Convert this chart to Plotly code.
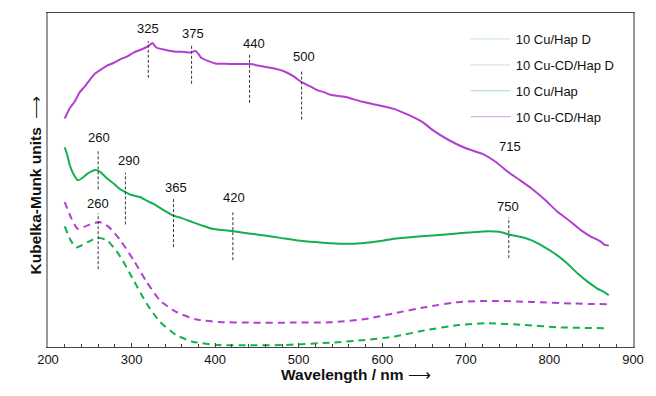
import plotly.graph_objects as go

# ---- data (arbitrary Kubelka-Munk units) ----
cu_cd_hap_x = [220, 226, 232, 238, 244, 250, 256, 263, 271, 279, 287, 295, 303, 311, 320, 325, 330, 340, 350, 360,
               370, 377, 383, 392, 400, 412, 424, 442, 459, 472, 483, 494, 504, 514, 522, 530, 538, 555, 575, 595,
               614, 632, 649, 660, 680, 700, 720, 736, 751, 765, 779, 795, 810, 824, 838, 850, 860, 866, 871]
cu_cd_hap_y = [68.4, 71.5, 73.5, 76.3, 78.0, 80.0, 81.8, 83.0, 84.3, 85.1, 86.2, 87.0, 88.2, 89.0, 90.1, 91.0, 89.6,
               89.0, 88.5, 88.4, 88.2, 88.6, 86.7, 85.6, 84.9, 84.8, 84.7, 84.7, 83.9, 83.3, 82.5, 81.0, 79.2, 78.0,
               76.9, 76.3, 75.5, 74.9, 73.5, 72.4, 71.3, 69.4, 67.2, 65.0, 61.9, 59.5, 57.8, 55.4, 52.3, 49.9, 47.4,
               44.0, 40.4, 37.8, 34.9, 33.0, 31.8, 30.6, 30.4]

cu_hap_x = [220, 223, 226, 230, 235.6, 241, 247.4, 252, 257.3, 263.2, 270, 278.8, 285, 292.6, 300, 310.2, 318, 325.9,
            335, 349.4, 360, 372.9, 385, 396.5, 408, 420, 440, 459.2, 480, 498.5, 520, 537.6, 555, 575, 600, 614,
            640, 661, 690, 720, 740, 751.4, 765, 778.8, 792, 806.2, 820, 833.8, 846, 857.3, 865, 871]
cu_hap_y = [59.8, 57.5, 54.5, 52.0, 49.9, 50.6, 51.9, 52.6, 53.0, 52.3, 50.6, 48.9, 47.5, 46.4, 45.5, 44.9, 43.8, 42.9,
            41.5, 39.4, 38.6, 37.4, 36.3, 35.4, 35.0, 34.7, 34.0, 33.4, 32.6, 31.9, 31.4, 31.1, 30.9, 31.1, 31.8, 32.4,
            33.0, 33.4, 34.0, 34.6, 34.5, 33.7, 33.0, 31.9, 30.2, 28.0, 25.3, 22.0, 19.5, 17.5, 16.5, 15.5]

cu_cd_hap_d_x = [220, 228, 235.6, 247.4, 261.2, 272.9, 286.7, 302.4, 318, 333.8, 353.3, 376.8, 404.4, 443.5, 490,
                 537.6, 580, 614.1, 653.3, 692.6, 731.8, 778.8, 829.8, 871]
cu_cd_hap_d_y = [43.4, 38.5, 35.4, 36.4, 37.4, 35.9, 31.9, 26.0, 19.5, 14.0, 10.5, 8.3, 7.5, 7.3, 7.3,
                 7.4, 8.4, 10.1, 12.0, 13.5, 13.8, 13.5, 13.0, 12.8]

cu_hap_d_x = [220, 227, 233.8, 247.4, 259.2, 270.9, 286.7, 302.4, 318, 333.8, 353.3, 372.9, 404.4, 440, 482.7,
              537.6, 575, 614.1, 653.3, 692.6, 723.9, 771, 810.2, 871]
cu_hap_d_y = [36.1, 32.0, 29.8, 31.4, 32.7, 31.9, 27.0, 20.0, 13.0, 7.6, 3.6, 1.6, 0.6, 0.5, 0.6,
              1.3, 2.0, 3.1, 5.1, 6.6, 7.1, 6.6, 5.9, 5.6]

# band markers: line position, line top/bottom, label text and label position
mark_x = [320, 371.8, 441.2, 503.5, 260, 292.6, 350.2, 421.2, 751.4, 260]
mark_top = [91.6, 90.7, 87.8, 82.7, 59.1, 52.2, 44.5, 40.3, 38.8, 40.0]
mark_bottom = [80.6, 78.8, 73.1, 68.1, 47.2, 36.7, 29.9, 26.0, 26.6, 23.3]
label_text = ["325", "375", "440", "500", "715", "260", "290", "365", "420", "750", "260"]
label_x = [320, 374, 445.9, 506, 753, 261.2, 296.5, 352.9, 422.4, 750.6, 260]
label_y = [95.5, 94.0, 90.9, 86.9, 60.0, 62.7, 55.8, 47.8, 44.8, 42.1, 43.0]

x_ticks = [200, 300, 400, 500, 600, 700, 800, 900]

GREEN = "#12b04e"
PURPLE = "#b23fd0"
FONT = "Arial, Liberation Sans, sans-serif"

fig = go.Figure()

# data curves
fig.add_trace(go.Scatter(x=cu_hap_d_x, y=cu_hap_d_y, mode="lines", showlegend=False,
                         line=dict(color=GREEN, width=2, dash="7px,5px", shape="spline", smoothing=0.6)))
fig.add_trace(go.Scatter(x=cu_cd_hap_d_x, y=cu_cd_hap_d_y, mode="lines", showlegend=False,
                         line=dict(color=PURPLE, width=2, dash="7px,5px", shape="spline", smoothing=0.6)))
fig.add_trace(go.Scatter(x=cu_hap_x, y=cu_hap_y, mode="lines", showlegend=False,
                         line=dict(color=GREEN, width=2, shape="spline", smoothing=0.4)))
fig.add_trace(go.Scatter(x=cu_cd_hap_x, y=cu_cd_hap_y, mode="lines", showlegend=False,
                         line=dict(color=PURPLE, width=2, shape="spline", smoothing=0.4)))

# marker lines
for mx, t, b in zip(mark_x, mark_top, mark_bottom):
    fig.add_trace(go.Scatter(x=[mx, mx], y=[b, t], mode="lines", showlegend=False, hoverinfo="skip",
                             line=dict(color="#333333", width=1, dash="3px,2px")))

# legend-only entries (pale samples as in the reference)
legend_items = [("10 Cu/Hap D", "#9fdcc6", "1px,1px"), ("10 Cu-CD/Hap D", "#dcaee6", "1px,1px"),
                ("10 Cu/Hap", "#9fdcc6", "solid"), ("10 Cu-CD/Hap", "#dcaee6", "solid")]
for i, (name, col, dsh) in enumerate(legend_items):
    fig.add_trace(go.Scatter(x=[None], y=[None], mode="lines", name=name, legendgroup=f"g{i}",
                             line=dict(color=col, width=1.2, dash=dsh)))

for t, lx, ly in zip(label_text, label_x, label_y):
    fig.add_annotation(x=lx, y=ly, text=t, showarrow=False, font=dict(family=FONT, size=13, color="#111"))

# axis titles
fig.add_annotation(xref="paper", yref="paper", x=0.526, y=-0.113, text="<b>Wavelength / nm</b> ⟶",
                   showarrow=False, font=dict(family=FONT, size=15.5, color="#111"))
fig.add_annotation(xref="paper", yref="paper", x=-0.040, y=0.484, text="<b>Kubelka-Munk units</b>  ⟶",
                   textangle=-90, showarrow=False, font=dict(family=FONT, size=15.5, color="#111"))

fig.update_xaxes(range=[200, 900], tickvals=x_ticks, ticks="inside", ticklen=4, tickcolor="#444",
                 showline=True, linecolor="#444", linewidth=1, mirror=True, showgrid=False, zeroline=False,
                 tickfont=dict(family=FONT, size=13, color="#111"),
                 minor=dict(dtick=20, tick0=200, ticks="inside", ticklen=3, tickcolor="#444"))
fig.update_yaxes(range=[0, 100], showticklabels=False, ticks="", showline=True, linecolor="#999",
                 linewidth=1.5, mirror=True, showgrid=False, zeroline=False)

fig.update_layout(width=656, height=396, margin=dict(l=48, r=13, t=12, b=49),
                  plot_bgcolor="white", paper_bgcolor="white",
                  legend=dict(x=0.714, y=0.967, xanchor="left", yanchor="top", tracegroupgap=6, itemwidth=40,
                              bgcolor="rgba(0,0,0,0)", font=dict(family=FONT, size=13, color="#111")),
                  font=dict(family=FONT))

fig.write_html("out.html")
